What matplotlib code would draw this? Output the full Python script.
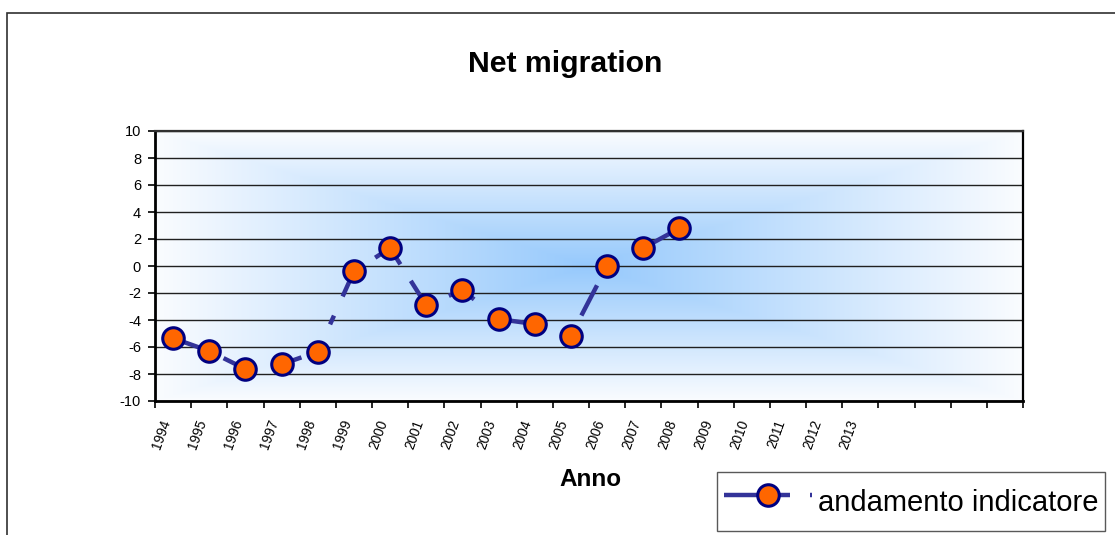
import numpy as np
import matplotlib
matplotlib.use("Agg")
import matplotlib.pyplot as plt
from matplotlib.patches import Rectangle
from matplotlib.lines import Line2D

# ---- data ----
years = ["1994", "1995", "1996", "1997", "1998", "1999", "2000", "2001", "2002",
         "2003", "2004", "2005", "2006", "2007", "2008", "2009", "2010", "2011",
         "2012", "2013"]
n_slots = 24
values = [-5.35, -6.3, -7.63, -7.28, -6.35, -0.4, 1.33, -2.91, -1.78,
          -3.93, -4.3, -5.16, 0.0, 1.33, 2.79]
title = "Net migration"
xlabel = "Anno"
series_name = "andamento indicatore"
yticks = list(range(-10, 11, 2))

# ---- style: dash phase of each line segment (pixels: offset, on/off sequence) ----
seg_dash_px = [
    (0.0, (33, 22)),
    (39.0, (33, 22)),
    (25.0, (33, 22)),
    (12.0, (33, 22)),
    (80.6, (9.6, 21, 40, 40)),
    (33.7, (33, 26)),
    (13.7, (33, 19.5)),
    (33.5, (33, 25)),
    (18.0, (33, 22)),
    (0.0, (33, 22)),
    (25.0, (33, 22)),
    (34.3, (34, 23)),
    (23.0, (33, 22)),
    (0.0, (33, 22)),
]
legend_dash_px = (0.0, (66, 20))

plt.rcParams['font.family'] = ['Liberation Sans', 'DejaVu Sans']
plt.rcParams['axes.unicode_minus'] = False

W, H = 1115, 535
fig = plt.figure(figsize=(W / 100, H / 100), dpi=100)
fig.patch.set_facecolor('white')

# outer frame
fig.add_artist(Rectangle((7 / W, -0.05), 1.2, (1 - 13 / H) + 0.05,
                         transform=fig.transFigure, fill=False,
                         edgecolor='#303030', linewidth=1.2))

ax = fig.add_axes([155 / W, (H - 401) / H, (1023 - 155) / W, (401 - 131) / H])

# background gradient (rectangular "from center")
nx, ny = 600, 300
gx = np.linspace(-1, 1, nx)
gy = np.linspace(-1, 1, ny)
GX, GY = np.meshgrid(gx, gy)
t = np.clip(np.maximum(np.abs(GX), np.abs(GY)), 0, 1)
c0 = np.array([150, 201, 252]) / 255.0
c1 = np.array([250, 252, 255]) / 255.0
img = c0[None, None, :] * (1 - t[..., None]) + c1[None, None, :] * t[..., None]
ax.imshow(img, extent=(0, n_slots, -10, 10), aspect='auto', zorder=0,
          interpolation='bilinear')

ax.set_xlim(0, n_slots)
ax.set_ylim(-10, 10)
ax.set_yticks(yticks)
ax.set_axisbelow(True)
ax.yaxis.grid(True, color='#202020', linewidth=1.0)
ax.xaxis.grid(False)

# x ticks: boundaries (major) and labels at centers (minor)
ax.set_xticks(np.arange(n_slots + 1))
ax.set_xticklabels([])
centers = np.arange(len(years)) + 0.5
ax.set_xticks(centers, minor=True)
ax.set_xticklabels(years, minor=True, rotation=70, ha='right', va='top',
                   fontsize=9.8)
ax.tick_params(axis='x', which='major', length=5, width=1.2, direction='out')
ax.tick_params(axis='x', which='minor', length=0, pad=12)
ax.tick_params(axis='y', length=5, width=1.2, labelsize=10.5, pad=5)

for side in ['left', 'bottom']:
    ax.spines[side].set_linewidth(2.0)
    ax.spines[side].set_color('black')
ax.spines['top'].set_linewidth(1.6)
ax.spines['top'].set_color('#303030')
ax.spines['right'].set_linewidth(1.6)
ax.spines['right'].set_color('black')

line_color = '#333399'
lw = 3.2


def to_ls(spec):
    off, seq = spec
    k = 0.72 / lw
    return (off * k, tuple(s * k for s in seq))


xs = np.arange(len(values)) + 0.5
for i in range(len(values) - 1):
    ax.plot(xs[i:i + 2], values[i:i + 2], color=line_color, linewidth=lw,
            linestyle=to_ls(seg_dash_px[i]), dash_capstyle='butt', zorder=3)

marker_kw = dict(marker='o', markersize=15.5, markerfacecolor='#FF6600',
                 markeredgecolor='#000080', markeredgewidth=2.2)
ax.plot(xs, values, linestyle='none', zorder=4, **marker_kw)

fig.text(565 / W, 1 - 63.5 / H, title, ha='center', va='center',
         fontsize=21.8, fontweight='bold')
fig.text(590 / W, 1 - 479 / H, xlabel, ha='center', va='center',
         fontsize=17.5, fontweight='bold')

handle = Line2D([], [], color=line_color, linewidth=lw,
                linestyle=to_ls(legend_dash_px), dash_capstyle='butt',
                **marker_kw)
leg = fig.legend([handle], [series_name], loc='upper left',
                 bbox_to_anchor=(717 / W, 1 - 472 / H),
                 borderaxespad=0, fontsize=21, frameon=True, fancybox=False,
                 edgecolor='#303030', handlelength=3.0, borderpad=0.25,
                 handleheight=1.95, handletextpad=0.2, numpoints=1)
leg.get_frame().set_linewidth(1.0)

fig.savefig('out.png', dpi=100)
